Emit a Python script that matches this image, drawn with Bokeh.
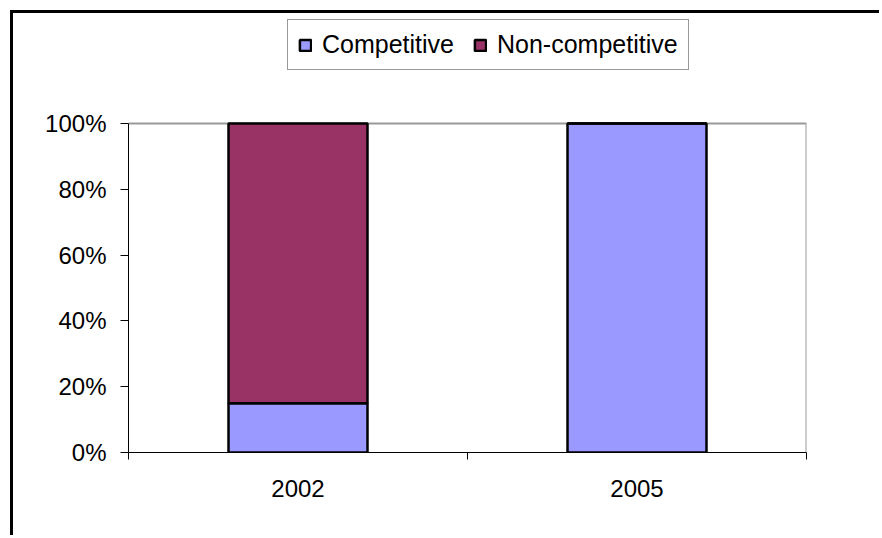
from bokeh.plotting import figure
from bokeh.models import ColumnDataSource, FixedTicker, PrintfTickFormatter, Range1d
from bokeh.embed import file_html
from bokeh.resources import INLINE

# Share of contracts by type, per year (percent)
years = ["2002", "2005"]
competitive = [15, 100]
non_competitive = [85, 0]
y_ticks = [0, 20, 40, 60, 80, 100]

series = ["competitive", "non_competitive"]
series_labels = ["Competitive", "Non-competitive"]
series_colors = ["#9999FF", "#993366"]

FONT = "Liberation Sans"

x_pos = [i + 0.5 for i in range(len(years))]
x_end = len(years)
y_end = y_ticks[-1]
source = ColumnDataSource(dict(x=x_pos, competitive=competitive,
                               non_competitive=non_competitive))

# The frame reaches the top of the canvas so the legend can sit above the
# plot area; the value axis is bounded to 0-100 % and the plot area's top and
# right edges are drawn as lines.
H, FRAME_BOTTOM, PLOT_TOP = 525, 439, 110
y_top = y_end * (FRAME_BOTTOM / (FRAME_BOTTOM - PLOT_TOP))

p = figure(width=869, height=H, output_backend="svg", toolbar_location=None,
           x_range=Range1d(0, x_end), y_range=Range1d(0, y_top),
           min_border_left=115, min_border_right=76,
           min_border_top=0, min_border_bottom=H - FRAME_BOTTOM)
p.title.visible = False
p.styles = {"margin-left": "10px", "margin-top": "10px",
            "border-left": "3px solid black", "border-top": "3px solid black"}
p.background_fill_color = "white"
p.border_fill_color = "white"
p.outline_line_color = None
p.xgrid.visible = False
p.ygrid.visible = False

# plot-area border (top and right)
p.line(x=[0, x_end, x_end], y=[y_end, y_end, 0], line_color="#999999", line_width=2)

p.vbar_stack(series, x="x", width=0.41, source=source, color=series_colors,
             line_color="black", line_width=2.5, legend_label=series_labels)

# x axis: boundary ticks between categories, labels centred in each slot
xa = p.xaxis[0]
xa.ticker = FixedTicker(ticks=x_pos, minor_ticks=list(range(x_end + 1)))
xa.major_label_overrides = {x: y for x, y in zip(x_pos, years)}
xa.major_tick_out = 0
xa.major_tick_in = 0
xa.minor_tick_out = 7
xa.minor_tick_in = 0
xa.minor_tick_line_color = "black"
xa.axis_line_color = "black"
xa.major_label_standoff = 20
xa.major_label_text_font = FONT
xa.major_label_text_font_size = "24px"
xa.major_label_text_color = "black"

ya = p.yaxis[0]
ya.bounds = (0, y_end)
ya.ticker = FixedTicker(ticks=y_ticks, minor_ticks=[])
ya.formatter = PrintfTickFormatter(format="%d%%")
ya.major_tick_out = 8
ya.major_tick_in = 0
ya.major_tick_line_color = "black"
ya.axis_line_color = "black"
ya.major_label_standoff = 14
ya.major_label_text_font = FONT
ya.major_label_text_font_size = "24px"
ya.major_label_text_color = "black"

leg = p.legend[0]
leg.orientation = "horizontal"
leg.location = (159, 382)
leg.label_text_font = FONT
leg.label_text_font_size = "25px"
leg.label_text_color = "black"
leg.glyph_width = 14
leg.glyph_height = 14
leg.label_standoff = 10
leg.spacing = 19
leg.padding = 10
leg.margin = 0
leg.border_line_color = "#333333"
leg.border_line_width = 1
leg.background_fill_color = "white"
leg.background_fill_alpha = 1

open("out.html", "w").write(file_html(p, INLINE))
